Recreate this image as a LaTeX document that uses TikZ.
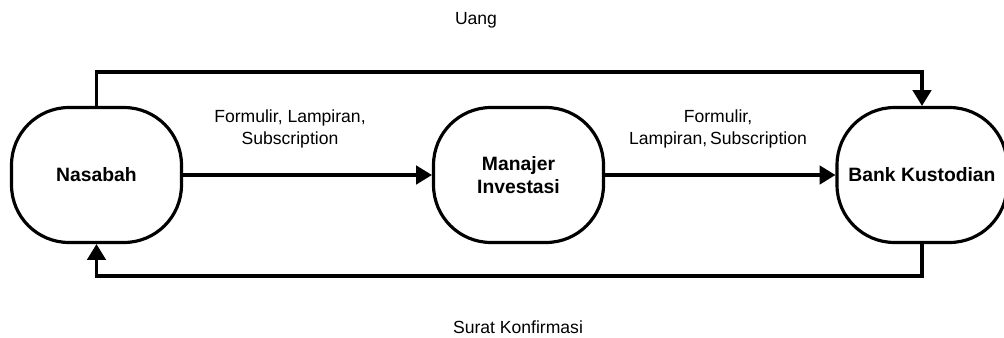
\documentclass[tikz,border=0pt]{standalone}
\usepackage{fontspec}
\setmainfont{Liberation Sans}
\usetikzlibrary{arrows.meta,positioning}
\tikzset{
    -{Triangle[length=9pt,width=10.5pt]},
    box/.style ={rectangle, draw, rounded corners=1.15cm, minimum width=3.4cm,
                 minimum height=2.7cm, align=center, font=\bfseries\fontsize{11}{13.5}\selectfont},
    el/.style = {inner sep=2pt, align=center, font=\fontsize{10}{12.5}\selectfont}
}
\begin{document}
\begin{tikzpicture}[x=0.02cm,y=-0.02cm,line width=1.8pt]
    \useasboundingbox (0,0) rectangle (1004,338);

    \node[box] (nas) at (96.5,175) {Nasabah};
    \node[box] (mi) at (518.5,175) {Manajer\\Investasi};
    \node[box] (bank) at (922,175) {Bank Kustodian};

    % labels
    \node[el] (uang) at (476,20) {Uang};
    \node[el] (form1) at (290,129) {Formulir, Lampiran,\\Subscription};
    \node[el] (form2) at (718,129) {Formulir,\\Lampiran,\,Subscription};
    \node[el] (surat) at (518,327) {Surat Konfirmasi};

    % forms
    \path (nas) edge (mi);
    \path (mi) edge (bank);

    % money and confirmation
    \draw (nas.north) -- ++(0,-34) -| (bank.north);
    \draw (bank.south) -- ++(0,32) -| (nas.south);

\end{tikzpicture}
\end{document}
